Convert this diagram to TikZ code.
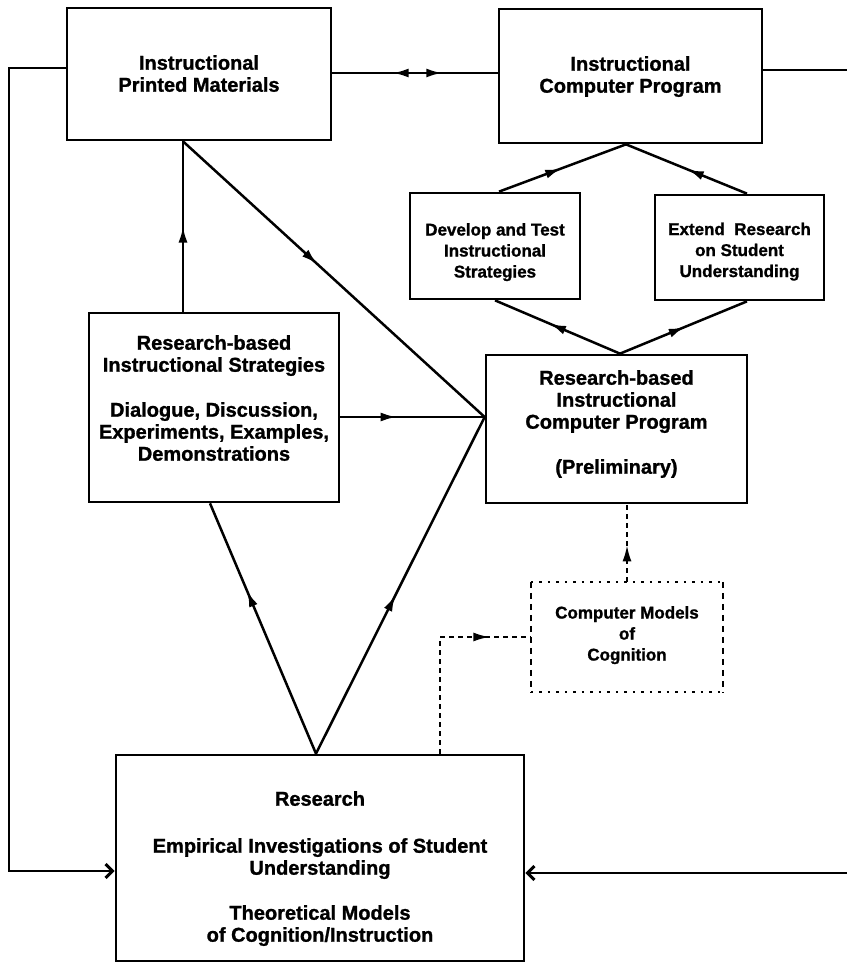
\documentclass[tikz,border=0pt]{standalone}
\usepackage{fontspec}
\setmainfont{Liberation Sans}[BoldFeatures={FakeBold=1.2}]
\usetikzlibrary{arrows.meta,decorations.markings,calc}
\tikzset{
  box/.style={draw=black, line width=2.7pt, rectangle, inner sep=0pt},
  txt/.style={align=center, font=\bfseries\fontsize{20}{22}\selectfont, inner sep=0pt, anchor=north},
  smalltxt/.style={align=center, font=\bfseries\fontsize{17}{21}\selectfont, inner sep=0pt, anchor=north},
  conn/.style={line width=2.5pt},
  loopline/.style={line width=1.9pt, -{Straight Barb[length=7pt,width=14pt,line width=3pt]}},
  dashline/.style={line width=1.8pt, dash pattern=on 5pt off 4pt},
  midtip/.style={-{Latex[length=16pt,width=9pt]}},
  midarrow/.style={postaction={decorate}, decoration={markings, mark=at position #1 with {\arrow{Latex[length=16pt,width=9pt]}}}},
}
\begin{document}
\begin{tikzpicture}[x=1pt,y=-1pt]
\useasboundingbox (0,0) rectangle (846,968);
\fill[white] (0,0) rectangle (846,968);

% boxes
\node[box, minimum width=264pt, minimum height=132pt] (PM) at (199,74) {};
\node[box, minimum width=263pt, minimum height=134pt] (CP) at (630.5,76) {};
\node[box, minimum width=170pt, minimum height=106pt] (Dev) at (495,246) {};
\node[box, minimum width=169pt, minimum height=105pt] (Ext) at (739.5,247.5) {};
\node[box, minimum width=250pt, minimum height=189pt] (RS) at (214,407.5) {};
\node[box, minimum width=261pt, minimum height=148pt] (Prelim) at (616.5,429) {};
\node[minimum width=192pt, minimum height=110pt, inner sep=0pt] (CMC) at (627,637) {};
\node[box, minimum width=408pt, minimum height=206pt] (Res) at (320,858) {};

% dotted/dashed border of CMC
\draw[line width=2pt, dash pattern=on 2.5pt off 6pt] (CMC.north west) -- (CMC.north east);
\draw[line width=2pt, dash pattern=on 2.5pt off 6pt] (CMC.south west) -- (CMC.south east);
\draw[line width=1.8pt, dash pattern=on 6pt off 5pt] (CMC.north west) -- (CMC.south west);
\draw[line width=1.8pt, dash pattern=on 6pt off 5pt] (CMC.north east) -- (CMC.south east);

% texts
\node[txt] (PMt) at ([yshift=19pt]PM.center) {Instructional\\Printed Materials};
\node[txt] (CPt) at ([yshift=20pt]CP.center) {Instructional\\Computer Program};
\node[smalltxt] (Devt) at ([yshift=23pt]Dev.center) {Develop and Test\\Instructional\\Strategies};
\node[smalltxt] (Extt) at ([yshift=25pt]Ext.center) {Extend\ \ Research\\on Student\\Understanding};
\node[txt] (RSt) at ([yshift=72.5pt]RS.center) {Research-based\\Instructional Strategies\\[23pt]Dialogue, Discussion,\\Experiments, Examples,\\Demonstrations};
\node[txt] (Prt) at ([yshift=59pt]Prelim.center) {Research-based\\Instructional\\Computer Program\\[23pt](Preliminary)};
\node[smalltxt] (CMCt) at ([yshift=31pt]CMC.center) {Computer Models\\of\\Cognition};
\node[txt] (Rest) at ([yshift=67pt]Res.center) {Research\\[25pt]Empirical Investigations of Student\\Understanding\\[23pt]Theoretical Models\\of Cognition/Instruction};

% anchor points
\coordinate (pmB) at ([xshift=-16pt]PM.south);
\coordinate (prW) at ([yshift=12pt]Prelim.west);
\coordinate (resT) at ([xshift=-4pt]Res.north);
\coordinate (rsB) at ([xshift=-4pt]RS.south);
\coordinate (cpB) at ([xshift=-4.5pt]CP.south);
\coordinate (devT) at ([xshift=4pt]Dev.north);
\coordinate (extT) at ([xshift=7.5pt]Ext.north);
\coordinate (extB) at ([xshift=7.5pt]Ext.south);
\coordinate (devB) at (Dev.south);
\coordinate (prT) at ([xshift=3.5pt]Prelim.north);
\coordinate (resD) at ([xshift=120pt]Res.north);
\coordinate (pmE) at ([yshift=1pt]PM.east);

% connectors
\draw[conn, postaction={decorate}, decoration={markings,
   mark=at position 0.365 with {\arrowreversed{Latex[length=16pt,width=9pt]}},
   mark=at position 0.665 with {\arrow{Latex[length=16pt,width=9pt]}}}]
   (pmE) -- (pmE -| CP.west);
\draw[conn, midarrow=0.5] (pmB |- RS.north) -- (pmB);
\draw[conn, midarrow=0.445] (pmB) -- (prW);
\draw[conn, midarrow=0.39] (RS.east |- prW) -- (prW);
\draw[conn, midarrow=0.65] (resT) -- (rsB);
\draw[conn, midarrow=0.47] (resT) -- (prW);
\draw[conn, midarrow=0.56] (prT) -- (devB);
\draw[conn, midarrow=0.51] (prT) -- (extB);
\draw[conn, midarrow=0.49] (devT) -- (cpB);
\draw[conn, midarrow=0.49] (extT) -- (cpB);
\draw[dashline, midarrow=0.47] (CMC.north) -- (CMC.north |- Prelim.south);
\draw[dashline, midarrow=0.8] (resD) |- (CMC.west);

% feedback loops
\draw[loopline] ([yshift=6pt]PM.west) -- ++(-57,0) |- ([yshift=-13pt]Res.west);
\draw[loopline] ([yshift=6pt]CP.east) -- ++(110,0) |- ([yshift=-15pt]Res.east);
\end{tikzpicture}
\end{document}
